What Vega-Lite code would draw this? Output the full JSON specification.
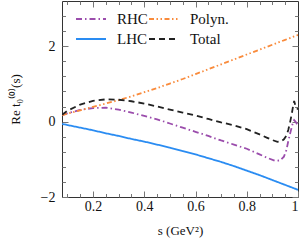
{
 "$schema": "https://vega.github.io/schema/vega-lite/v6.json",
 "width": 236, "height": 196,
 "autosize": {"type": "none"},
 "padding": {"left": 62, "top": 1, "right": 10, "bottom": 48},
 "background": "white",
 "config": {
  "view": {"stroke": "#333", "strokeWidth": 1},
  "font": "Liberation Serif",
  "axis": {"domain": false, "grid": false, "labelFont": "Liberation Serif", "labelFontSize": 14, "labelColor": "#111", "titleFont": "Liberation Serif", "titleFontSize": 13, "titleFontWeight": "normal", "titleColor": "#111", "tickColor": "#777", "tickWidth": 1}
 },
 "data": {"values": [
  {"s":0.079,"v":0.17,"c":"RHC"},{"s":0.1,"v":0.22,"c":"RHC"},{"s":0.15,"v":0.31,"c":"RHC"},{"s":0.2,"v":0.36,"c":"RHC"},{"s":0.25,"v":0.37,"c":"RHC"},{"s":0.3,"v":0.32,"c":"RHC"},{"s":0.35,"v":0.24,"c":"RHC"},{"s":0.4,"v":0.15,"c":"RHC"},{"s":0.45,"v":0.06,"c":"RHC"},{"s":0.5,"v":-0.05,"c":"RHC"},{"s":0.55,"v":-0.16,"c":"RHC"},{"s":0.6,"v":-0.27,"c":"RHC"},{"s":0.65,"v":-0.38,"c":"RHC"},{"s":0.7,"v":-0.5,"c":"RHC"},{"s":0.75,"v":-0.61,"c":"RHC"},{"s":0.8,"v":-0.72,"c":"RHC"},{"s":0.85,"v":-0.87,"c":"RHC"},{"s":0.88,"v":-0.96,"c":"RHC"},{"s":0.91,"v":-1.04,"c":"RHC"},{"s":0.93,"v":-1.03,"c":"RHC"},{"s":0.945,"v":-0.93,"c":"RHC"},{"s":0.955,"v":-0.75,"c":"RHC"},{"s":0.962,"v":-0.52,"c":"RHC"},{"s":0.969,"v":-0.32,"c":"RHC"},{"s":0.975,"v":-0.16,"c":"RHC"},{"s":0.98,"v":-0.03,"c":"RHC"},{"s":0.985,"v":0.04,"c":"RHC"},{"s":0.99,"v":0.0,"c":"RHC"},{"s":1.0,"v":-0.1,"c":"RHC"},
  {"s":0.079,"v":-0.06,"c":"LHC"},{"s":0.1,"v":-0.09,"c":"LHC"},{"s":0.15,"v":-0.16,"c":"LHC"},{"s":0.2,"v":-0.23,"c":"LHC"},{"s":0.25,"v":-0.31,"c":"LHC"},{"s":0.3,"v":-0.38,"c":"LHC"},{"s":0.35,"v":-0.46,"c":"LHC"},{"s":0.4,"v":-0.53,"c":"LHC"},{"s":0.45,"v":-0.61,"c":"LHC"},{"s":0.5,"v":-0.69,"c":"LHC"},{"s":0.55,"v":-0.78,"c":"LHC"},{"s":0.6,"v":-0.87,"c":"LHC"},{"s":0.65,"v":-0.97,"c":"LHC"},{"s":0.7,"v":-1.07,"c":"LHC"},{"s":0.75,"v":-1.18,"c":"LHC"},{"s":0.8,"v":-1.3,"c":"LHC"},{"s":0.85,"v":-1.42,"c":"LHC"},{"s":0.9,"v":-1.55,"c":"LHC"},{"s":0.95,"v":-1.68,"c":"LHC"},{"s":1.0,"v":-1.81,"c":"LHC"},
  {"s":0.079,"v":0.17,"c":"Polyn."},{"s":0.1,"v":0.21,"c":"Polyn."},{"s":0.15,"v":0.3,"c":"Polyn."},{"s":0.2,"v":0.39,"c":"Polyn."},{"s":0.25,"v":0.48,"c":"Polyn."},{"s":0.3,"v":0.57,"c":"Polyn."},{"s":0.35,"v":0.67,"c":"Polyn."},{"s":0.4,"v":0.78,"c":"Polyn."},{"s":0.45,"v":0.89,"c":"Polyn."},{"s":0.5,"v":1.01,"c":"Polyn."},{"s":0.55,"v":1.13,"c":"Polyn."},{"s":0.6,"v":1.26,"c":"Polyn."},{"s":0.65,"v":1.39,"c":"Polyn."},{"s":0.7,"v":1.52,"c":"Polyn."},{"s":0.75,"v":1.65,"c":"Polyn."},{"s":0.8,"v":1.78,"c":"Polyn."},{"s":0.85,"v":1.91,"c":"Polyn."},{"s":0.9,"v":2.04,"c":"Polyn."},{"s":0.95,"v":2.17,"c":"Polyn."},{"s":1.0,"v":2.3,"c":"Polyn."},
  {"s":0.079,"v":0.18,"c":"Total"},{"s":0.1,"v":0.29,"c":"Total"},{"s":0.15,"v":0.45,"c":"Total"},{"s":0.2,"v":0.55,"c":"Total"},{"s":0.25,"v":0.59,"c":"Total"},{"s":0.3,"v":0.58,"c":"Total"},{"s":0.35,"v":0.54,"c":"Total"},{"s":0.4,"v":0.48,"c":"Total"},{"s":0.45,"v":0.4,"c":"Total"},{"s":0.5,"v":0.32,"c":"Total"},{"s":0.55,"v":0.24,"c":"Total"},{"s":0.6,"v":0.16,"c":"Total"},{"s":0.65,"v":0.07,"c":"Total"},{"s":0.7,"v":-0.02,"c":"Total"},{"s":0.75,"v":-0.1,"c":"Total"},{"s":0.8,"v":-0.2,"c":"Total"},{"s":0.85,"v":-0.34,"c":"Total"},{"s":0.88,"v":-0.43,"c":"Total"},{"s":0.9,"v":-0.49,"c":"Total"},{"s":0.92,"v":-0.535,"c":"Total"},{"s":0.935,"v":-0.52,"c":"Total"},{"s":0.945,"v":-0.47,"c":"Total"},{"s":0.955,"v":-0.37,"c":"Total"},{"s":0.962,"v":-0.22,"c":"Total"},{"s":0.969,"v":-0.02,"c":"Total"},{"s":0.975,"v":0.18,"c":"Total"},{"s":0.98,"v":0.38,"c":"Total"},{"s":0.985,"v":0.55,"c":"Total"},{"s":0.99,"v":0.42,"c":"Total"},{"s":1.0,"v":0.32,"c":"Total"}
 ]},
 "resolve": {"axis": {"x": "independent", "y": "independent"}},
 "layer": [
  {
   "mark": {"type": "line", "strokeWidth": 1.8, "clip": true},
   "encoding": {
    "x": {"field": "s", "type": "quantitative", "scale": {"domain": [0.079, 1], "nice": false, "zero": false},
          "axis": {"orient": "bottom", "values": [0.2, 0.4, 0.6, 0.8, 1], "format": ".1~f", "tickSize": -6, "labelPadding": 8, "title": "s (GeV²)", "titlePadding": 11}},
    "y": {"field": "v", "type": "quantitative", "scale": {"domain": [-2, 3.2], "nice": false, "zero": false},
          "axis": {"orient": "left", "values": [-2, 0, 2], "format": "d", "tickSize": -6, "labelPadding": 13, "title": "Re t₀⁽⁰⁾(s)", "titlePadding": 18}},
    "color": {"field": "c", "type": "nominal",
              "scale": {"domain": ["RHC", "LHC", "Polyn.", "Total"], "range": ["#9b4dac", "#2a8cf2", "#f98b3c", "#222222"]},
              "legend": {"orient": "none", "legendX": 13, "legendY": 8, "columns": 2, "title": null, "symbolType": "stroke", "symbolSize": 900, "symbolStrokeWidth": 1.8, "labelFont": "Liberation Serif", "labelFontSize": 15, "labelColor": "#111", "clipHeight": 20, "rowPadding": 0, "columnPadding": -6, "labelOffset": 10}},
    "strokeDash": {"field": "c", "type": "nominal",
              "scale": {"domain": ["RHC", "LHC", "Polyn.", "Total"], "range": [[6, 3, 1.5, 3], [1, 0], [5, 2.5, 1.5, 2.5, 1.5, 2.5], [6, 4]]},
              "legend": {"orient": "none", "legendX": 13, "legendY": 8, "columns": 2, "title": null, "symbolType": "stroke", "symbolSize": 900, "symbolStrokeWidth": 1.8, "labelFont": "Liberation Serif", "labelFontSize": 15, "labelColor": "#111", "clipHeight": 20, "rowPadding": 0, "columnPadding": -6, "labelOffset": 10}}
   }
  },
  {
   "mark": {"type": "line", "opacity": 0},
   "encoding": {
    "x": {"field": "s", "type": "quantitative", "axis": {"orient": "bottom", "values": [0.1, 0.15, 0.25, 0.3, 0.35, 0.45, 0.5, 0.55, 0.65, 0.7, 0.75, 0.85, 0.9, 0.95], "labels": false, "tickSize": -3.5, "title": null}},
    "y": {"field": "v", "type": "quantitative", "axis": {"orient": "left", "values": [-1.6, -1.2, -0.8, -0.4, 0.4, 0.8, 1.2, 1.6, 2.4, 2.8], "labels": false, "tickSize": -3.5, "title": null}},
    "detail": {"field": "c"}
   }
  },
  {
   "mark": {"type": "line", "opacity": 0},
   "encoding": {
    "x": {"field": "s", "type": "quantitative", "axis": {"orient": "top", "values": [0.2, 0.4, 0.6, 0.8], "labels": false, "tickSize": -6, "title": null}},
    "y": {"field": "v", "type": "quantitative", "axis": {"orient": "right", "values": [-2, 0, 2], "labels": false, "tickSize": -6, "title": null}},
    "detail": {"field": "c"}
   }
  },
  {
   "mark": {"type": "line", "opacity": 0},
   "encoding": {
    "x": {"field": "s", "type": "quantitative", "axis": {"orient": "top", "values": [0.1, 0.15, 0.25, 0.3, 0.35, 0.45, 0.5, 0.55, 0.65, 0.7, 0.75, 0.85, 0.9, 0.95], "labels": false, "tickSize": -3.5, "title": null}},
    "y": {"field": "v", "type": "quantitative", "axis": {"orient": "right", "values": [-1.6, -1.2, -0.8, -0.4, 0.4, 0.8, 1.2, 1.6, 2.4, 2.8], "labels": false, "tickSize": -3.5, "title": null}},
    "detail": {"field": "c"}
   }
  }
 ]
}
